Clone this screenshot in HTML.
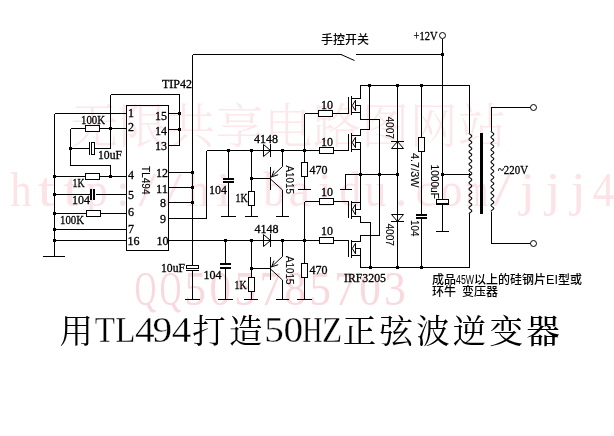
<!DOCTYPE html>
<html lang="zh-CN">
<head>
<meta charset="utf-8">
<title>用TL494打造50HZ正弦波逆变器</title>
<style>
html,body{margin:0;padding:0;background:#fff;}
body{width:614px;height:436px;overflow:hidden;}
svg{display:block;will-change:transform;}
.w{stroke:#000;stroke-width:1;fill:none;shape-rendering:crispEdges;}
.w .aa{shape-rendering:auto;}
.t{font-family:"Liberation Serif","Noto Serif CJK SC",serif;font-size:12px;fill:#000;stroke:#000;stroke-width:0.3px;}
.r{font-family:"Liberation Sans","Noto Sans CJK SC",sans-serif;font-size:10.5px;fill:#000;stroke:#000;stroke-width:0.12px;}
.c{font-family:"Liberation Sans","Noto Sans CJK SC",sans-serif;font-size:12px;fill:#000;font-weight:500;}
.tc{font-family:"Liberation Serif","Noto Serif CJK SC",serif;font-size:33.5px;fill:#000;font-weight:400;}
.tl{font-family:"Liberation Serif","Noto Serif CJK SC",serif;font-size:36px;fill:#000;stroke:#fff;stroke-width:0.35px;}
.t2{font-family:"Liberation Sans","Noto Sans CJK SC",sans-serif;font-size:12.5px;font-weight:400;}
.wm{font-family:"Liberation Serif","Noto Serif CJK SC",serif;fill:#fce8eb;font-weight:300;}
.wl{font-size:48px;fill:#fbe3e7;}
.wq{fill:#f9d9de;}
</style>
</head>
<body>
<svg width="614" height="436" viewBox="0 0 614 436">
<g class="wm">
<text class="wc" y="142.5" font-size="48"><tspan x="70.2">无</tspan><tspan x="118.8">限</tspan><tspan x="167.2">共</tspan><tspan x="215.8">享</tspan><tspan x="264.2">电</tspan><tspan x="312.8">路</tspan><tspan x="361.2">图</tspan><tspan x="409.8">网</tspan><tspan x="458.2">站</tspan></text>
<text class="wl" y="205.7"><tspan x="10.2" textLength="21.5" lengthAdjust="spacingAndGlyphs">h</tspan><tspan x="37.8" textLength="17" lengthAdjust="spacingAndGlyphs">t</tspan><tspan x="63.1" textLength="17" lengthAdjust="spacingAndGlyphs">t</tspan><tspan x="86.2" textLength="21.5" lengthAdjust="spacingAndGlyphs">p</tspan><tspan x="116.3">:</tspan><tspan x="138.6" textLength="18" lengthAdjust="spacingAndGlyphs">/</tspan><tspan x="163.9" textLength="18" lengthAdjust="spacingAndGlyphs">/</tspan><tspan x="187.5" textLength="21.5" lengthAdjust="spacingAndGlyphs">h</tspan><tspan x="216.6" textLength="14" lengthAdjust="spacingAndGlyphs">i</tspan><tspan x="242.9">.</tspan><tspan x="263.5" textLength="21.5" lengthAdjust="spacingAndGlyphs">b</tspan><tspan x="288.8" textLength="21.5" lengthAdjust="spacingAndGlyphs">a</tspan><tspan x="317.9" textLength="14" lengthAdjust="spacingAndGlyphs">i</tspan><tspan x="339.5" textLength="21.5" lengthAdjust="spacingAndGlyphs">d</tspan><tspan x="364.8" textLength="21.5" lengthAdjust="spacingAndGlyphs">u</tspan><tspan x="394.9">.</tspan><tspan x="415.5" textLength="21.5" lengthAdjust="spacingAndGlyphs">c</tspan><tspan x="440.8" textLength="21.5" lengthAdjust="spacingAndGlyphs">o</tspan><tspan x="466.2" textLength="21.5" lengthAdjust="spacingAndGlyphs">m</tspan><tspan x="493.2" textLength="18" lengthAdjust="spacingAndGlyphs">/</tspan><tspan x="520.1" textLength="15" lengthAdjust="spacingAndGlyphs">j</tspan><tspan x="545.4" textLength="15" lengthAdjust="spacingAndGlyphs">j</tspan><tspan x="570.7" textLength="15" lengthAdjust="spacingAndGlyphs">j</tspan><tspan x="592.8" textLength="21.5" lengthAdjust="spacingAndGlyphs">4</tspan></text>
<text class="wl wq" y="304.6"><tspan x="134.7" textLength="21.5" lengthAdjust="spacingAndGlyphs">Q</tspan><tspan x="159.7" textLength="21.5" lengthAdjust="spacingAndGlyphs">Q</tspan><tspan x="184.6" textLength="21.5" lengthAdjust="spacingAndGlyphs">5</tspan><tspan x="209.6" textLength="21.5" lengthAdjust="spacingAndGlyphs">0</tspan><tspan x="234.5" textLength="21.5" lengthAdjust="spacingAndGlyphs">5</tspan><tspan x="259.5" textLength="21.5" lengthAdjust="spacingAndGlyphs">7</tspan><tspan x="284.4" textLength="21.5" lengthAdjust="spacingAndGlyphs">8</tspan><tspan x="309.4" textLength="21.5" lengthAdjust="spacingAndGlyphs">5</tspan><tspan x="334.3" textLength="21.5" lengthAdjust="spacingAndGlyphs">7</tspan><tspan x="359.3" textLength="21.5" lengthAdjust="spacingAndGlyphs">0</tspan><tspan x="384.2" textLength="21.5" lengthAdjust="spacingAndGlyphs">3</tspan></text>
</g>
<g class="w">
<line x1="54.5" y1="113.5" x2="54.5" y2="256.5"/>
<line x1="54.5" y1="113.5" x2="126.5" y2="113.5"/>
<line x1="43" y1="256.5" x2="65" y2="256.5"/>
<line x1="70.5" y1="128.5" x2="126.5" y2="128.5"/>
<rect x="85.5" y="125.5" width="14.0" height="6.0" fill="#fff"/>
<line x1="70.5" y1="128.5" x2="70.5" y2="165.5"/>
<line x1="70.5" y1="165.5" x2="110.5" y2="165.5"/>
<line x1="110.5" y1="165.5" x2="110.5" y2="176.5"/>
<line x1="110.5" y1="94.5" x2="110.5" y2="148.5"/>
<line x1="110.5" y1="94.5" x2="179.5" y2="94.5"/>
<line x1="179.5" y1="94.5" x2="179.5" y2="145.5"/>
<line x1="70.5" y1="148.5" x2="89.5" y2="148.5"/>
<line x1="89.5" y1="142" x2="89.5" y2="155"/>
<rect x="91.5" y="142.5" width="3.0" height="12.0" fill="#fff"/>
<line x1="94.5" y1="148.5" x2="110.5" y2="148.5"/>
<line x1="54.5" y1="176.5" x2="126.5" y2="176.5"/>
<rect x="85.5" y="173.5" width="14.0" height="6.0" fill="#fff"/>
<line x1="54.5" y1="194.5" x2="126.5" y2="194.5"/>
<rect x="89.5" y="191" width="6" height="7" fill="#fff" stroke="none"/>
<line x1="91" y1="189" x2="91" y2="200" stroke-width="2"/>
<line x1="94" y1="189" x2="94" y2="200" stroke-width="2"/>
<line x1="54.5" y1="213.5" x2="126.5" y2="213.5"/>
<rect x="86.5" y="210.5" width="14.0" height="6.0" fill="#fff"/>
<line x1="54.5" y1="229.5" x2="126.5" y2="229.5"/>
<line x1="54.5" y1="240.5" x2="126.5" y2="240.5"/>
<circle cx="54.5" cy="176.5" r="1.6" fill="#000" stroke="none"/>
<circle cx="54.5" cy="194.5" r="1.6" fill="#000" stroke="none"/>
<circle cx="54.5" cy="213.5" r="1.6" fill="#000" stroke="none"/>
<circle cx="54.5" cy="229.5" r="1.6" fill="#000" stroke="none"/>
<circle cx="54.5" cy="240.5" r="1.6" fill="#000" stroke="none"/>
<circle cx="70.5" cy="148.5" r="1.6" fill="#000" stroke="none"/>
<circle cx="110.5" cy="128.5" r="1.6" fill="#000" stroke="none"/>
<circle cx="110.5" cy="176.5" r="1.6" fill="#000" stroke="none"/>
<rect x="126.5" y="105.5" width="42" height="145" fill="none"/>
<line x1="168.5" y1="113.5" x2="179.5" y2="113.5"/>
<line x1="168.5" y1="129.5" x2="179.5" y2="129.5"/>
<line x1="168.5" y1="145.5" x2="179.5" y2="145.5"/>
<circle cx="179.5" cy="113.5" r="1.6" fill="#000" stroke="none"/>
<circle cx="179.5" cy="129.5" r="1.6" fill="#000" stroke="none"/>
<line x1="168.5" y1="172.5" x2="192.5" y2="172.5"/>
<circle cx="192.5" cy="172.5" r="1.6" fill="#000" stroke="none"/>
<line x1="168.5" y1="187.5" x2="192.5" y2="187.5"/>
<circle cx="192.5" cy="187.5" r="1.6" fill="#000" stroke="none"/>
<line x1="168.5" y1="202.5" x2="192.5" y2="202.5"/>
<circle cx="192.5" cy="202.5" r="1.6" fill="#000" stroke="none"/>
<line x1="168.5" y1="218.5" x2="206.5" y2="218.5"/>
<line x1="206.5" y1="150.5" x2="206.5" y2="218.5"/>
<line x1="192.5" y1="54.5" x2="192.5" y2="266"/>
<line x1="192.5" y1="54.5" x2="341.5" y2="54.5"/>
<line class="aa" x1="341" y1="54.5" x2="354.5" y2="60.5"/>
<line x1="356" y1="54.5" x2="442.5" y2="54.5"/>
<circle cx="442.5" cy="54.5" r="1.6" fill="#000" stroke="none"/>
<line x1="442.5" y1="38.5" x2="442.5" y2="199.5"/>
<circle cx="442.5" cy="35.5" r="3" fill="#fff" class="aa"/>
<line x1="206.5" y1="150.5" x2="263.5" y2="150.5"/>
<line x1="270.5" y1="150.5" x2="319.5" y2="150.5"/>
<line x1="263.5" y1="150.5" x2="270.5" y2="150.5"/>
<circle cx="228.5" cy="150.5" r="1.6" fill="#000" stroke="none"/>
<circle cx="251.5" cy="150.5" r="1.6" fill="#000" stroke="none"/>
<circle cx="282.5" cy="150.5" r="1.6" fill="#000" stroke="none"/>
<circle cx="304.5" cy="150.5" r="1.6" fill="#000" stroke="none"/>
<line x1="228.5" y1="150.5" x2="228.5" y2="178"/>
<line x1="223" y1="178.5" x2="234" y2="178.5" stroke-width="2"/>
<line x1="223" y1="182" x2="234" y2="182" stroke-width="2"/>
<line x1="228.5" y1="183" x2="228.5" y2="216.5"/>
<line x1="221" y1="216.5" x2="236" y2="216.5"/>
<line x1="251.5" y1="150.5" x2="251.5" y2="216.5"/>
<rect x="248.5" y="191.5" width="6.0" height="14.0" fill="#fff"/>
<line x1="245" y1="216.5" x2="258" y2="216.5"/>
<circle cx="251.5" cy="178.5" r="1.6" fill="#000" stroke="none"/>
<polygon class="aa" points="263.5,144.5 263.5,156.5 270.5,150.5" fill="none"/>
<line x1="270.5" y1="144" x2="270.5" y2="157"/>
<line x1="251.5" y1="178.5" x2="270.5" y2="178.5"/>
<line x1="270.5" y1="166.5" x2="270.5" y2="189.5"/>
<g class="aa">
<polyline points="282.5,150.5 282.5,166.5 271.3,177.0"/>
<polyline points="271,179.5 282.5,190.0 282.5,216.5"/>
<polyline points="274,170.7 271.6,176.9 278.2,174.7" fill="none"/>
</g>
<line x1="276" y1="216.5" x2="289" y2="216.5"/>
<line x1="304.5" y1="113.5" x2="304.5" y2="189.5"/>
<rect x="301.5" y="162.5" width="6.0" height="14.0" fill="#fff"/>
<line x1="298" y1="189.5" x2="311" y2="189.5"/>
<line x1="168.5" y1="240.5" x2="319.5" y2="240.5"/>
<circle cx="225.5" cy="240.5" r="1.6" fill="#000" stroke="none"/>
<circle cx="251.5" cy="240.5" r="1.6" fill="#000" stroke="none"/>
<circle cx="282.5" cy="240.5" r="1.6" fill="#000" stroke="none"/>
<circle cx="304.5" cy="240.5" r="1.6" fill="#000" stroke="none"/>
<line x1="225.5" y1="240.5" x2="225.5" y2="263.5"/>
<line x1="220" y1="264" x2="231" y2="264" stroke-width="2"/>
<line x1="220" y1="267.5" x2="231" y2="267.5" stroke-width="2"/>
<line x1="225.5" y1="268" x2="225.5" y2="299.5"/>
<line x1="218" y1="299.5" x2="233" y2="299.5"/>
<line x1="251.5" y1="240.5" x2="251.5" y2="299.5"/>
<rect x="248.5" y="277.5" width="6.0" height="14.0" fill="#fff"/>
<line x1="244" y1="299.5" x2="258" y2="299.5"/>
<circle cx="251.5" cy="268.5" r="1.6" fill="#000" stroke="none"/>
<polygon class="aa" points="263.5,234.5 263.5,246.5 270.5,240.5" fill="none"/>
<line x1="270.5" y1="234" x2="270.5" y2="247"/>
<line x1="251.5" y1="268.5" x2="270.5" y2="268.5"/>
<line x1="270.5" y1="256.5" x2="270.5" y2="279.5"/>
<g class="aa">
<polyline points="282.5,240.5 282.5,256.5 271.3,267.0"/>
<polyline points="271,269.5 282.5,280.0 282.5,299.5"/>
<polyline points="274,260.7 271.6,266.9 278.2,264.7" fill="none"/>
</g>
<line x1="276" y1="299.5" x2="289" y2="299.5"/>
<line x1="304.5" y1="201.5" x2="304.5" y2="299.5"/>
<rect x="301.5" y="263.5" width="6.0" height="14.0" fill="#fff"/>
<line x1="297" y1="299.5" x2="312" y2="299.5"/>
<rect x="186.5" y="265.5" width="12.0" height="3.0" fill="#fff"/>
<line x1="186" y1="270.5" x2="199" y2="270.5"/>
<line x1="192.5" y1="270.5" x2="192.5" y2="299.5"/>
<line x1="185" y1="299.5" x2="200" y2="299.5"/>
<line x1="304.5" y1="113.5" x2="348.5" y2="113.5"/>
<rect x="318.5" y="110.5" width="14.0" height="6.0" fill="#fff"/>
<line x1="319.5" y1="150.5" x2="348.5" y2="150.5"/>
<rect x="319.5" y="147.5" width="14.0" height="6.0" fill="#fff"/>
<line x1="304.5" y1="201.5" x2="348.5" y2="201.5"/>
<rect x="319.5" y="198.5" width="14.0" height="6.0" fill="#fff"/>
<line x1="319.5" y1="240.5" x2="348.5" y2="240.5"/>
<rect x="319.5" y="237.5" width="14.0" height="6.0" fill="#fff"/>
<line x1="348.5" y1="97.0" x2="348.5" y2="113.5"/>
<line x1="351.5" y1="96.0" x2="351.5" y2="114.5"/>
<line x1="351.5" y1="98.0" x2="360.5" y2="98.0"/>
<line x1="351.5" y1="112.5" x2="360.5" y2="112.5"/>
<line x1="354" y1="105.0" x2="360.5" y2="105.0"/>
<polygon class="aa" points="352.3,105.5 355.5,100.2 355.5,110.7" fill="#fff"/>
<line x1="348.5" y1="134.0" x2="348.5" y2="150.5"/>
<line x1="351.5" y1="133.0" x2="351.5" y2="151.5"/>
<line x1="351.5" y1="135.0" x2="360.5" y2="135.0"/>
<line x1="351.5" y1="149.5" x2="360.5" y2="149.5"/>
<line x1="354" y1="142.0" x2="360.5" y2="142.0"/>
<polygon class="aa" points="352.3,142.5 355.5,137.2 355.5,147.7" fill="#fff"/>
<line x1="348.5" y1="201.5" x2="348.5" y2="218.0"/>
<line x1="351.5" y1="200.5" x2="351.5" y2="219.0"/>
<line x1="351.5" y1="202.5" x2="360.5" y2="202.5"/>
<line x1="351.5" y1="216.5" x2="360.5" y2="216.5"/>
<line x1="354" y1="209.5" x2="360.5" y2="209.5"/>
<polygon class="aa" points="352.3,209.5 355.5,204.3 355.5,214.8" fill="#fff"/>
<line x1="348.5" y1="240.5" x2="348.5" y2="257.0"/>
<line x1="351.5" y1="239.5" x2="351.5" y2="258.0"/>
<line x1="351.5" y1="241.5" x2="360.5" y2="241.5"/>
<line x1="351.5" y1="255.5" x2="360.5" y2="255.5"/>
<line x1="354" y1="248.5" x2="360.5" y2="248.5"/>
<polygon class="aa" points="352.3,248.5 355.5,243.3 355.5,253.8" fill="#fff"/>
<polyline points="360.5,98 360.5,85.5 469.5,85.5 469.5,133"/>
<polyline points="360.5,105 360.5,119.5 379.5,119.5 379.5,235.5 360.5,235.5 360.5,241.5"/>
<polyline points="369.5,85.5 369.5,129.5 360.5,129.5 360.5,135"/>
<line x1="360.5" y1="142" x2="360.5" y2="209.5"/>
<polyline points="345.5,189.5 345.5,174.5 397.5,174.5"/>
<line x1="340" y1="189.5" x2="352" y2="189.5"/>
<polyline points="360.5,216.5 360.5,222.5 370.5,222.5 370.5,267.5"/>
<polyline points="360.5,248.5 360.5,267.5 469.5,267.5 469.5,214"/>
<circle cx="369.5" cy="85.5" r="1.6" fill="#000" stroke="none"/>
<circle cx="397.5" cy="85.5" r="1.6" fill="#000" stroke="none"/>
<circle cx="421.5" cy="85.5" r="1.6" fill="#000" stroke="none"/>
<circle cx="360.5" cy="174.5" r="1.6" fill="#000" stroke="none"/>
<circle cx="379.5" cy="174.5" r="1.6" fill="#000" stroke="none"/>
<circle cx="397.5" cy="174.5" r="1.6" fill="#000" stroke="none"/>
<circle cx="370.5" cy="267.5" r="1.6" fill="#000" stroke="none"/>
<circle cx="397.5" cy="267.5" r="1.6" fill="#000" stroke="none"/>
<circle cx="421.5" cy="267.5" r="1.6" fill="#000" stroke="none"/>
<line x1="397.5" y1="85.5" x2="397.5" y2="267.5"/>
<polygon class="aa" points="397.5,141.5 391.5,148.5 403.5,148.5" fill="none"/>
<line x1="391" y1="141.5" x2="404" y2="141.5"/>
<polygon class="aa" points="397.5,221.5 391.5,214.5 403.5,214.5" fill="none"/>
<line x1="391" y1="221.5" x2="404" y2="221.5"/>
<line x1="421.5" y1="85.5" x2="421.5" y2="214"/>
<rect x="418.5" y="137.5" width="6.0" height="14.0" fill="#fff"/>
<line x1="416" y1="215" x2="427" y2="215" stroke-width="2"/>
<line x1="416" y1="218" x2="427" y2="218" stroke-width="2"/>
<line x1="421.5" y1="219" x2="421.5" y2="267.5"/>
<rect x="436.5" y="199.5" width="12.0" height="4.0" fill="#fff"/>
<line x1="436" y1="204.5" x2="449" y2="204.5"/>
<line x1="442.5" y1="204.5" x2="442.5" y2="231.5"/>
<line x1="435.5" y1="231.5" x2="448.5" y2="231.5"/>
<line x1="442.5" y1="174.5" x2="469.5" y2="174.5"/>
<circle cx="442.5" cy="174.5" r="1.6" fill="#000" stroke="none"/>
<circle cx="469.5" cy="174.5" r="1.3" fill="#000" stroke="none"/>
<polyline class="aa" points="469.00,133.00 469.19,133.52 469.70,134.04 470.40,134.56 471.10,135.08 471.61,135.60 471.80,136.12 471.61,136.63 471.10,137.15 470.40,137.67 469.70,138.19 469.19,138.71 469.00,139.23 469.19,139.75 469.70,140.27 470.40,140.79 471.10,141.31 471.61,141.83 471.80,142.35 471.61,142.87 471.10,143.38 470.40,143.90 469.70,144.42 469.19,144.94 469.00,145.46 469.19,145.98 469.70,146.50 470.40,147.02 471.10,147.54 471.61,148.06 471.80,148.58 471.61,149.10 471.10,149.62 470.40,150.13 469.70,150.65 469.19,151.17 469.00,151.69 469.19,152.21 469.70,152.73 470.40,153.25 471.10,153.77 471.61,154.29 471.80,154.81 471.61,155.33 471.10,155.85 470.40,156.37 469.70,156.88 469.19,157.40 469.00,157.92 469.19,158.44 469.70,158.96 470.40,159.48 471.10,160.00 471.61,160.52 471.80,161.04 471.61,161.56 471.10,162.08 470.40,162.60 469.70,163.12 469.19,163.63 469.00,164.15 469.19,164.67 469.70,165.19 470.40,165.71 471.10,166.23 471.61,166.75 471.80,167.27 471.61,167.79 471.10,168.31 470.40,168.83 469.70,169.35 469.19,169.87 469.00,170.38 469.19,170.90 469.70,171.42 470.40,171.94 471.10,172.46 471.61,172.98 471.80,173.50 471.61,174.02 471.10,174.54 470.40,175.06 469.70,175.58 469.19,176.10 469.00,176.62 469.19,177.13 469.70,177.65 470.40,178.17 471.10,178.69 471.61,179.21 471.80,179.73 471.61,180.25 471.10,180.77 470.40,181.29 469.70,181.81 469.19,182.33 469.00,182.85 469.19,183.37 469.70,183.88 470.40,184.40 471.10,184.92 471.61,185.44 471.80,185.96 471.61,186.48 471.10,187.00 470.40,187.52 469.70,188.04 469.19,188.56 469.00,189.08 469.19,189.60 469.70,190.12 470.40,190.63 471.10,191.15 471.61,191.67 471.80,192.19 471.61,192.71 471.10,193.23 470.40,193.75 469.70,194.27 469.19,194.79 469.00,195.31 469.19,195.83 469.70,196.35 470.40,196.87 471.10,197.38 471.61,197.90 471.80,198.42 471.61,198.94 471.10,199.46 470.40,199.98 469.70,200.50 469.19,201.02 469.00,201.54 469.19,202.06 469.70,202.58 470.40,203.10 471.10,203.62 471.61,204.13 471.80,204.65 471.61,205.17 471.10,205.69 470.40,206.21 469.70,206.73 469.19,207.25 469.00,207.77 469.19,208.29 469.70,208.81 470.40,209.33 471.10,209.85 471.61,210.37 471.80,210.88 471.61,211.40 471.10,211.92 470.40,212.44 469.70,212.96 469.19,213.48 469.00,214.00" fill="none" stroke-width="1.05"/>
<polyline class="aa" points="491.00,131.00 491.19,131.52 491.70,132.03 492.40,132.55 493.10,133.06 493.61,133.58 493.80,134.10 493.61,134.61 493.10,135.13 492.40,135.64 491.70,136.16 491.19,136.68 491.00,137.19 491.19,137.71 491.70,138.22 492.40,138.74 493.10,139.26 493.61,139.77 493.80,140.29 493.61,140.80 493.10,141.32 492.40,141.84 491.70,142.35 491.19,142.87 491.00,143.38 491.19,143.90 491.70,144.42 492.40,144.93 493.10,145.45 493.61,145.96 493.80,146.48 493.61,147.00 493.10,147.51 492.40,148.03 491.70,148.54 491.19,149.06 491.00,149.58 491.19,150.09 491.70,150.61 492.40,151.12 493.10,151.64 493.61,152.16 493.80,152.67 493.61,153.19 493.10,153.71 492.40,154.22 491.70,154.74 491.19,155.25 491.00,155.77 491.19,156.29 491.70,156.80 492.40,157.32 493.10,157.83 493.61,158.35 493.80,158.87 493.61,159.38 493.10,159.90 492.40,160.41 491.70,160.93 491.19,161.45 491.00,161.96 491.19,162.48 491.70,162.99 492.40,163.51 493.10,164.03 493.61,164.54 493.80,165.06 493.61,165.57 493.10,166.09 492.40,166.61 491.70,167.12 491.19,167.64 491.00,168.15 491.19,168.67 491.70,169.19 492.40,169.70 493.10,170.22 493.61,170.73 493.80,171.25 493.61,171.77 493.10,172.28 492.40,172.80 491.70,173.31 491.19,173.83 491.00,174.35 491.19,174.86 491.70,175.38 492.40,175.89 493.10,176.41 493.61,176.93 493.80,177.44 493.61,177.96 493.10,178.47 492.40,178.99 491.70,179.51 491.19,180.02 491.00,180.54 491.19,181.05 491.70,181.57 492.40,182.09 493.10,182.60 493.61,183.12 493.80,183.63 493.61,184.15 493.10,184.67 492.40,185.18 491.70,185.70 491.19,186.21 491.00,186.73 491.19,187.25 491.70,187.76 492.40,188.28 493.10,188.79 493.61,189.31 493.80,189.83 493.61,190.34 493.10,190.86 492.40,191.38 491.70,191.89 491.19,192.41 491.00,192.92 491.19,193.44 491.70,193.96 492.40,194.47 493.10,194.99 493.61,195.50 493.80,196.02 493.61,196.54 493.10,197.05 492.40,197.57 491.70,198.08 491.19,198.60 491.00,199.12 491.19,199.63 491.70,200.15 492.40,200.66 493.10,201.18 493.61,201.70 493.80,202.21 493.61,202.73 493.10,203.24 492.40,203.76 491.70,204.28 491.19,204.79 491.00,205.31 491.19,205.82 491.70,206.34 492.40,206.86 493.10,207.37 493.61,207.89 493.80,208.40 493.61,208.92 493.10,209.44 492.40,209.95 491.70,210.47 491.19,210.98 491.00,211.50" fill="none" stroke-width="1.05"/>
<rect x="480" y="133" width="3" height="80.5" fill="#000" stroke="none"/>
<polyline points="491.5,131 491.5,107.5 530.5,107.5"/>
<circle cx="533.5" cy="107.5" r="3" fill="#fff" class="aa"/>
<polyline points="491.5,211.5 491.5,243.5 530.5,243.5"/>
<circle cx="533.5" cy="243.5" r="3" fill="#fff" class="aa"/>
</g>
<text class="t" x="128" y="117" textLength="6.0" lengthAdjust="spacingAndGlyphs">1</text>
<text class="t" x="128" y="131" textLength="6.0" lengthAdjust="spacingAndGlyphs">2</text>
<text class="t" x="128" y="179" textLength="6.0" lengthAdjust="spacingAndGlyphs">4</text>
<text class="t" x="128" y="198.5" textLength="6.0" lengthAdjust="spacingAndGlyphs">5</text>
<text class="t" x="128" y="216" textLength="6.0" lengthAdjust="spacingAndGlyphs">6</text>
<text class="t" x="128" y="233" textLength="6.0" lengthAdjust="spacingAndGlyphs">7</text>
<text class="t" x="127.5" y="245" textLength="12.0" lengthAdjust="spacingAndGlyphs">16</text>
<text class="t" x="155" y="119.5" textLength="12.0" lengthAdjust="spacingAndGlyphs">15</text>
<text class="t" x="155" y="134.5" textLength="12.0" lengthAdjust="spacingAndGlyphs">14</text>
<text class="t" x="155" y="150" textLength="12.0" lengthAdjust="spacingAndGlyphs">13</text>
<text class="t" x="156" y="176.5" textLength="12.0" lengthAdjust="spacingAndGlyphs">12</text>
<text class="t" x="156" y="192.5" textLength="12.0" lengthAdjust="spacingAndGlyphs">11</text>
<text class="t" x="160" y="206.5" textLength="6.0" lengthAdjust="spacingAndGlyphs">8</text>
<text class="t" x="160" y="222.5" textLength="6.0" lengthAdjust="spacingAndGlyphs">9</text>
<text class="t" x="156.5" y="245" textLength="12.0" lengthAdjust="spacingAndGlyphs">10</text>
<text class="r" x="142" y="166" textLength="28.5" lengthAdjust="spacingAndGlyphs" transform="rotate(90 142 166)">TL494</text>
<text class="t" x="162" y="88" textLength="30.0" lengthAdjust="spacingAndGlyphs">TIP42</text>
<text class="t" x="81" y="123.5" textLength="24.0" lengthAdjust="spacingAndGlyphs">100K</text>
<text class="t" x="98" y="158.5" textLength="24.0" lengthAdjust="spacingAndGlyphs">10uF</text>
<text class="t" x="72.5" y="187" textLength="12.0" lengthAdjust="spacingAndGlyphs">1K</text>
<text class="t" x="72" y="204" textLength="18.0" lengthAdjust="spacingAndGlyphs">104</text>
<text class="t" x="60" y="223.5" textLength="24.0" lengthAdjust="spacingAndGlyphs">100K</text>
<text class="t" x="254" y="142.5" textLength="24.0" lengthAdjust="spacingAndGlyphs">4148</text>
<text class="t" x="254.5" y="233" textLength="24.0" lengthAdjust="spacingAndGlyphs">4148</text>
<text class="t" x="209" y="193.5" textLength="18.0" lengthAdjust="spacingAndGlyphs">104</text>
<text class="t" x="235.5" y="202" textLength="12.0" lengthAdjust="spacingAndGlyphs">1K</text>
<text class="t" x="203.5" y="278.5" textLength="18.0" lengthAdjust="spacingAndGlyphs">104</text>
<text class="t" x="234.5" y="288.5" textLength="12.0" lengthAdjust="spacingAndGlyphs">1K</text>
<text class="t" x="161" y="271.5" textLength="24.0" lengthAdjust="spacingAndGlyphs">10uF</text>
<text class="r" x="286" y="165.5" textLength="28.5" lengthAdjust="spacingAndGlyphs" transform="rotate(90 286 165.5)">A1015</text>
<text class="r" x="286" y="256" textLength="28.5" lengthAdjust="spacingAndGlyphs" transform="rotate(90 286 256)">A1015</text>
<text class="t" x="309.5" y="174" textLength="18.0" lengthAdjust="spacingAndGlyphs">470</text>
<text class="t" x="309.5" y="274" textLength="18.0" lengthAdjust="spacingAndGlyphs">470</text>
<text class="t" x="321" y="108.5" textLength="12.0" lengthAdjust="spacingAndGlyphs">10</text>
<text class="t" x="321" y="146" textLength="12.0" lengthAdjust="spacingAndGlyphs">10</text>
<text class="t" x="321" y="196" textLength="12.0" lengthAdjust="spacingAndGlyphs">10</text>
<text class="t" x="321" y="235" textLength="12.0" lengthAdjust="spacingAndGlyphs">10</text>
<text class="r" x="386" y="116.5" textLength="22.5" lengthAdjust="spacingAndGlyphs" transform="rotate(90 386 116.5)">4007</text>
<text class="r" x="386" y="223.5" textLength="22.5" lengthAdjust="spacingAndGlyphs" transform="rotate(90 386 223.5)">4007</text>
<text class="r" x="411" y="153" textLength="34.5" lengthAdjust="spacingAndGlyphs" transform="rotate(90 411 153)">4.7/3W</text>
<text class="r" x="411" y="220" textLength="16.5" lengthAdjust="spacingAndGlyphs" transform="rotate(90 411 220)">104</text>
<text class="r" x="431" y="164.5" textLength="34.5" lengthAdjust="spacingAndGlyphs" transform="rotate(90 431 164.5)">1000uF</text>
<text class="t" x="413.5" y="39.5" textLength="24.0" lengthAdjust="spacingAndGlyphs">+12V</text>
<text class="t" x="498" y="173.5" textLength="30.0" lengthAdjust="spacingAndGlyphs">~220V</text>
<text class="t" x="344" y="282" textLength="42.0" lengthAdjust="spacingAndGlyphs">IRF3205</text>
<text class="c" x="321" y="44">手控开关</text>
<text class="c" x="432" y="284">成品<tspan class="t2" textLength="18" lengthAdjust="spacingAndGlyphs">45W</tspan><tspan x="474">以上的硅钢片</tspan><tspan class="t2" textLength="12" lengthAdjust="spacingAndGlyphs">EI</tspan><tspan x="558">型或</tspan></text>
<text class="c" x="432" y="295.5">环牛 <tspan x="462">变压器</tspan></text>
<text class="tc" y="342.6"><tspan x="59.40" y="342.6">用</tspan><tspan class="tl" x="94.70" y="342.3" textLength="20.2" lengthAdjust="spacingAndGlyphs">T</tspan><tspan class="tl" x="115.35" y="342.3" textLength="20.2" lengthAdjust="spacingAndGlyphs">L</tspan><tspan class="tl" x="135.00" y="342.3" textLength="19.6" lengthAdjust="spacingAndGlyphs">4</tspan><tspan class="tl" x="152.45" y="342.3" textLength="19.6" lengthAdjust="spacingAndGlyphs">9</tspan><tspan class="tl" x="171.70" y="342.3" textLength="19.6" lengthAdjust="spacingAndGlyphs">4</tspan><tspan x="192.35" y="342.6">打</tspan><tspan x="229.05" y="342.6">造</tspan><tspan class="tl" x="264.35" y="342.3" textLength="19.6" lengthAdjust="spacingAndGlyphs">5</tspan><tspan class="tl" x="283.60" y="342.3" textLength="19.6" lengthAdjust="spacingAndGlyphs">0</tspan><tspan class="tl" x="302.25" y="342.3" textLength="20.2" lengthAdjust="spacingAndGlyphs">H</tspan><tspan class="tl" x="321.90" y="342.3" textLength="20.2" lengthAdjust="spacingAndGlyphs">Z</tspan><tspan x="342.75" y="342.6">正</tspan><tspan x="379.45" y="342.6">弦</tspan><tspan x="416.15" y="342.6">波</tspan><tspan x="452.85" y="342.6">逆</tspan><tspan x="489.55" y="342.6">变</tspan><tspan x="526.25" y="342.6" font-weight="500">器</tspan></text>
</svg>
</body>
</html>
